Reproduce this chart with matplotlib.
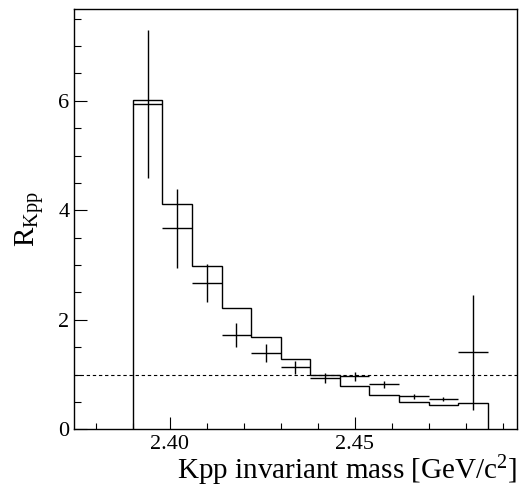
import numpy as np
import matplotlib
matplotlib.use("Agg")
import matplotlib.pyplot as plt
from matplotlib.ticker import MultipleLocator, FixedLocator

# DATA

edges = np.round(np.arange(2.390, 2.4861, 0.008), 3)

# simulated histogram (step line)
hist_vals = [6.02, 4.12, 2.98, 2.21, 1.68, 1.29, 1.00, 0.785, 0.62, 0.50, 0.445, 0.48]

# measured points with errors
data_vals = [5.94, 3.67, 2.67, 1.73, 1.39, 1.13, 0.94, 0.97, 0.82, 0.60, 0.56, 1.41]
data_errs = [1.35, 0.72, 0.34, 0.22, 0.17, 0.12, 0.09, 0.08, 0.065, 0.04, 0.037, 1.05]

x_major = [2.40, 2.45]
x_labels = ['2.40', '2.45']

centers = 0.5 * (edges[:-1] + edges[1:])
half_width = 0.004

# PLOT

plt.rcParams['font.family'] = ['Liberation Serif', 'DejaVu Serif']
plt.rcParams['mathtext.fontset'] = 'custom'
plt.rcParams['mathtext.rm'] = 'Liberation Serif'
plt.rcParams['mathtext.it'] = 'Liberation Serif'

fig = plt.figure(figsize=(5.2, 4.91), dpi=100)
ax = fig.add_axes([0.1417, 0.1257, 0.8531, 0.8553])

ax.stairs(hist_vals, edges, baseline=0, color='black', linewidth=1.0)

ax.errorbar(
    centers,
    data_vals,
    xerr=half_width,
    yerr=data_errs,
    fmt='none',
    ecolor='black',
    elinewidth=1.0,
    capsize=0
)

ax.axhline(1.0, color='black', linewidth=0.8, linestyle=(0, (3, 2.5)))

ax.set_xlim(2.374, 2.494)
ax.set_ylim(0, 7.67)

ax.xaxis.set_major_locator(FixedLocator(x_major))
ax.set_xticklabels(x_labels)
ax.xaxis.set_minor_locator(MultipleLocator(0.01))
ax.yaxis.set_major_locator(MultipleLocator(2))
ax.yaxis.set_minor_locator(MultipleLocator(0.5))

ax.tick_params(which='both', direction='in', top=False, right=False,
               labelsize=16, width=0.8)
ax.tick_params(axis='x', which='major', length=8.5, pad=4)
ax.tick_params(axis='x', which='minor', length=4.3)
ax.tick_params(axis='y', which='major', length=9.4, pad=3)
ax.tick_params(axis='y', which='minor', length=5)

for spine in ax.spines.values():
    spine.set_linewidth(1.0)

ax.set_xlabel(r'Kpp invariant mass [GeV/c$^{2}$]', fontsize=21, loc='right', labelpad=0)
ax.set_ylabel(r'R$_{\mathrm{Kpp}}$', fontsize=21, labelpad=9)

fig.savefig('out.png', dpi=100)
